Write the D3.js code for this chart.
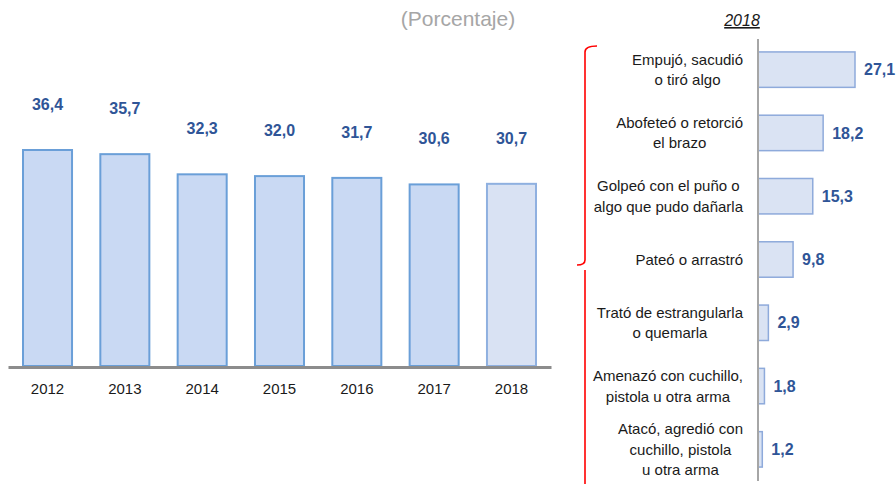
<!DOCTYPE html>
<html>
<head>
<meta charset="utf-8">
<script src="https://cdn.jsdelivr.net/npm/d3@7"></script>
<style>
  body { margin: 0; background: #fff; }
  text { font-family: "Liberation Sans Narrow", "Arial Narrow", "Liberation Sans", sans-serif; }
</style>
</head>
<body>
<svg id="mysvg" width="896" height="484"></svg>
<script>
// left chart data
const years = ["2012", "2013", "2014", "2015", "2016", "2017", "2018"];
const totals = [36.4, 35.7, 32.3, 32.0, 31.7, 30.6, 30.7];

// right chart data (2018)
const tipos = [
  ["Empujó, sacudió", "o tiró algo"],
  ["Abofeteó o retorció", "el brazo"],
  ["Golpeó con el  puño o", "algo que pudo dañarla"],
  ["Pateó o arrastró"],
  ["Trató de estrangularla", "o quemarla"],
  ["Amenazó con cuchillo,", "pistola  u otra arma"],
  ["Atacó, agredió con", "cuchillo, pistola", "u otra arma"]
];
const valores2018 = [27.1, 18.2, 15.3, 9.8, 2.9, 1.8, 1.2];

const fmt = v => d3.format(".1f")(v).replace(".", ",");

const svg = d3.select("#mysvg");

// subtitle
svg.append("text")
  .attr("x", 458).attr("y", 26)
  .attr("text-anchor", "middle")
  .style("font-family", "'Liberation Sans', Arial, sans-serif")
  .style("font-size", "21px")
  .style("fill", "#a6a6a6")
  .text("(Porcentaje)");

// ---- left chart ----
const x = d3.scaleBand()
  .domain(years)
  .range([8, 551])
  .paddingInner(0.366)
  .paddingOuter(0.194);

const y = d3.scaleLinear()
  .domain([0, 36.4])
  .range([366, 150]);

const left = svg.append("g");

left.selectAll(".bar")
  .data(years)
  .join("rect")
  .attr("class", "bar")
  .attr("x", d => x(d))
  .attr("y", (d, i) => y(totals[i]))
  .attr("width", x.bandwidth())
  .attr("height", (d, i) => y(0) - y(totals[i]))
  .attr("fill", d => d === "2018" ? "#d9e2f3" : "#c9d9f3")
  .attr("stroke", d => d === "2018" ? "#8fb0e0" : "#6a9fd8")
  .attr("stroke-width", 2);

left.selectAll(".val")
  .data(years)
  .join("text")
  .attr("class", "val")
  .attr("x", d => x(d) + x.bandwidth() / 2)
  .attr("y", (d, i) => y(totals[i]) - 40)
  .attr("text-anchor", "middle")
  .style("font-size", "16px")
  .style("font-weight", "bold")
  .style("fill", "#2f5597")
  .text((d, i) => fmt(totals[i]));

// baseline + year labels
left.append("g")
  .attr("transform", "translate(0,367)")
  .call(d3.axisBottom(x).tickSize(0).tickPadding(16))
  .call(g => g.select(".domain").attr("stroke", "#8c8c8c").attr("stroke-width", 3))
  .call(g => g.selectAll("text")
    .style("font-family", "'Liberation Sans Narrow', 'Arial Narrow', sans-serif")
    .style("font-size", "15px")
    .style("fill", "#1a1a1a"));

// ---- right chart ----
const yb = d3.scaleBand()
  .domain(d3.range(tipos.length))
  .range([38, 481])
  .paddingInner(0.44)
  .paddingOuter(0.22);

const xb = d3.scaleLinear()
  .domain([0, 27.1])
  .range([758, 855]);

const right = svg.append("g");

right.append("text")
  .attr("x", 742).attr("y", 26)
  .attr("text-anchor", "middle")
  .style("font-family", "'Liberation Sans', Arial, sans-serif")
  .style("font-size", "16px")
  .style("font-style", "italic")
  .style("text-decoration", "underline")
  .style("fill", "#1a1a1a")
  .text("2018");

right.selectAll(".hbar")
  .data(valores2018)
  .join("rect")
  .attr("class", "hbar")
  .attr("x", xb(0))
  .attr("y", (d, i) => yb(i))
  .attr("width", d => xb(d) - xb(0))
  .attr("height", yb.bandwidth())
  .attr("fill", "#dae3f3")
  .attr("stroke", "#8eaadb")
  .attr("stroke-width", 1.5);

right.selectAll(".hval")
  .data(valores2018)
  .join("text")
  .attr("class", "hval")
  .attr("x", d => xb(d) + 9)
  .attr("y", (d, i) => yb(i) + yb.bandwidth() / 2)
  .attr("dy", "0.35em")
  .style("font-size", "16px")
  .style("font-weight", "bold")
  .style("fill", "#2f5597")
  .text(d => fmt(d));

// vertical axis line
right.append("line")
  .attr("x1", xb(0)).attr("x2", xb(0))
  .attr("y1", 39).attr("y2", 481)
  .attr("stroke", "#a6a6a6")
  .attr("stroke-width", 2);

// category labels: block right-aligned, lines centred
tipos.forEach((lines, i) => {
  const cy = yb(i) + yb.bandwidth() / 2;
  const lh = 20.5;
  const g = right.append("g");
  const t = g.selectAll("text")
    .data(lines)
    .join("text")
    .attr("y", (d, j) => cy + (j - (lines.length - 1) / 2) * lh)
    .attr("dy", "0.35em")
    .attr("text-anchor", "middle")
    .style("font-size", "15px")
    .style("fill", "#1a1a1a")
    .text(d => d);
  let w = 0;
  t.each(function() { w = Math.max(w, this.getComputedTextLength()); });
  t.attr("x", 743 - w / 2);
});

// red brace
const br = d3.path();
br.moveTo(597, 46);
br.quadraticCurveTo(585, 46, 585, 52);
br.lineTo(585, 260);
br.quadraticCurveTo(585, 265, 577, 265);
br.moveTo(585, 270);
br.lineTo(585, 484);
svg.append("path")
  .attr("d", br.toString())
  .attr("fill", "none")
  .attr("stroke", "#ff0000")
  .attr("stroke-width", 1.6);
</script>
</body>
</html>
